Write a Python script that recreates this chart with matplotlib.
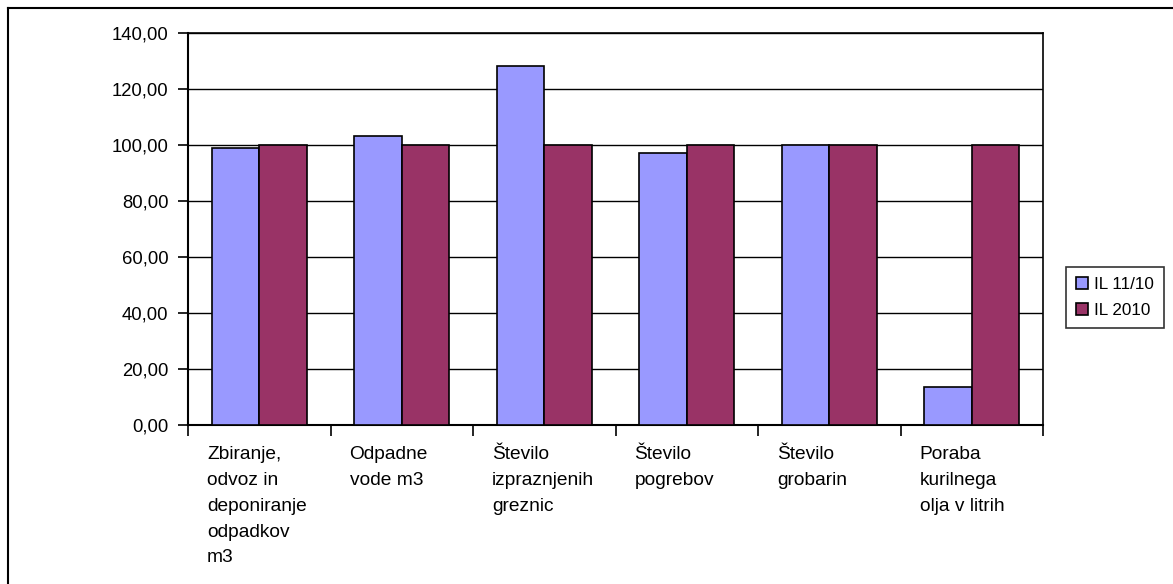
import matplotlib.pyplot as plt
from matplotlib.lines import Line2D
from matplotlib.transforms import blended_transform_factory, offset_copy
import numpy as np

categories = [
    "Zbiranje,\nodvoz in\ndeponiranje\nodpadkov\nm3",
    "Odpadne\nvode m3",
    "Število\nizpraznjenih\ngreznic",
    "Število\npogrebov",
    "Število\ngrobarin",
    "Poraba\nkurilnega\nolja v litrih",
]
il_11_10 = [98.8, 103.3, 128.2, 97.2, 100.0, 13.4]
il_2010 = [100.0, 100.0, 100.0, 100.0, 100.0, 100.0]
series_names = ["IL 11/10", "IL 2010"]
y_ticks = [0, 20, 40, 60, 80, 100, 120, 140]

plt.rcParams["font.family"] = ["Liberation Sans", "DejaVu Sans"]

W, H = 1173, 584
fig = plt.figure(figsize=(W / 100, H / 100), dpi=100)
ax = fig.add_axes([188 / W, 1 - 425 / H, (1043 - 188) / W, (425 - 33) / H])

x = np.arange(len(categories))
bw = 1 / 3
ax.bar(x - bw / 2, il_11_10, bw, color="#9999FF", edgecolor="black", linewidth=1.2, label=series_names[0], zorder=3)
ax.bar(x + bw / 2, il_2010, bw, color="#993366", edgecolor="black", linewidth=1.2, label=series_names[1], zorder=3)

ax.set_xlim(-0.5, len(categories) - 0.5)
ax.set_ylim(0, 140)
ax.set_yticks(y_ticks)
ax.set_yticklabels([f"{v:.2f}".replace(".", ",") for v in y_ticks])
ax.yaxis.grid(True, color="black", linewidth=1, zorder=0)
ax.set_axisbelow(True)

ax.set_xticks(np.arange(len(categories) + 1) - 0.5)
ax.set_xticklabels([])
ax.tick_params(axis="x", length=8, width=1.2, direction="out")
ax.tick_params(axis="y", length=7, width=1.2, direction="out", pad=7, labelsize=13.3)

for sp in ["top", "right"]:
    ax.spines[sp].set_linewidth(1.2)
ax.spines["left"].set_linewidth(1.5)
ax.spines["bottom"].set_linewidth(1.5)

trans = blended_transform_factory(ax.transData, ax.transAxes)
trans = offset_copy(trans, fig=fig, x=0, y=-21, units="dots")
for i, lab in enumerate(categories):
    ax.text(i - 0.5 + 19 / 142.5, 0, lab, transform=trans, ha="left", va="top",
            fontsize=13.8, linespacing=1.68)

leg = ax.legend(loc="upper left", bbox_to_anchor=(1066 / W, 1 - 267 / H),
                bbox_transform=fig.transFigure, borderaxespad=0, frameon=True,
                fancybox=False, edgecolor="black", handlelength=0.7,
                handleheight=0.7, handletextpad=0.35, labelspacing=0.62,
                borderpad=0.6, fontsize=12.3)
leg.get_frame().set_linewidth(1.2)

# outer chart border (left and top only visible)
fig.add_artist(Line2D([8 / W, 8 / W], [0, 1 - 8 / H], transform=fig.transFigure, color="black", linewidth=1.5))
fig.add_artist(Line2D([8 / W, 1], [1 - 8 / H, 1 - 8 / H], transform=fig.transFigure, color="black", linewidth=1.5))

fig.savefig("out.png", dpi=100)
